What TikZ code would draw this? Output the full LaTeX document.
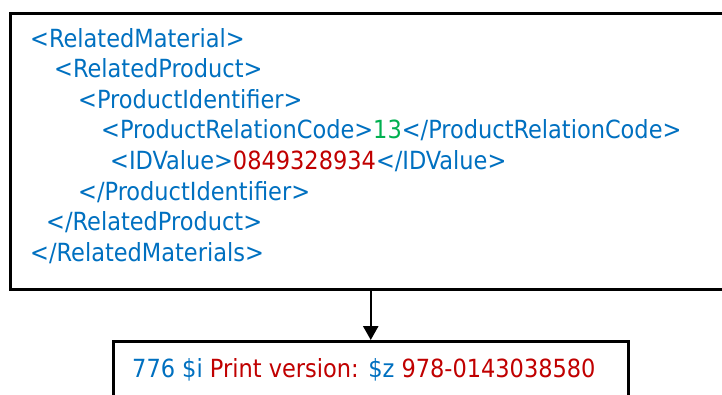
\documentclass[tikz,border=0pt]{standalone}
\usepackage{fontspec}
\setmainfont{DejaVu Sans Condensed}
\usetikzlibrary{arrows.meta}
\definecolor{tagblue}{RGB}{0,112,192}
\definecolor{valred}{RGB}{192,0,0}
\definecolor{codegreen}{RGB}{0,176,80}
\tikzset{
  frame/.style={draw=black, line width=2.5pt, inner sep=0pt},
  xmlline/.style={anchor=base west, inner sep=0pt, text=tagblue,
    font=\fontsize{25}{29}\selectfont},
  link/.style={line width=2.5pt, -{Triangle[width=15pt,length=14pt]}},
}
\begin{document}
\begin{tikzpicture}[x=1pt,y=-1pt]
  \useasboundingbox (0,0) rectangle (722,394);
  \clip (0,0) rectangle (722,394);
  % source record frame (runs off the right edge)
  \node[frame, minimum width=740pt, minimum height=276pt, anchor=north west] (xml) at (9,12) {};
  % converted MARC field frame (runs off the bottom edge)
  \node[frame, minimum width=515pt, minimum height=70pt, anchor=north west] (marc) at (112,340) {};
  % XML lines
  \node[xmlline] (l1) at (30,47)  {<RelatedMaterial>};
  \node[xmlline] (l2) at (54,77)  {<RelatedProduct>};
  \node[xmlline] (l3) at (78,108) {<ProductIdentifier>};
  \node[xmlline] (l4) at (101,138) {<ProductRelationCode>\textcolor{codegreen}{13}</ProductRelationCode>};
  \node[xmlline] (l5) at (110,169) {<IDValue>\textcolor{valred}{0849328934}</IDValue>};
  \node[xmlline] (l6) at (78,200) {</ProductIdentifier>};
  \node[xmlline] (l7) at (46,230) {</RelatedProduct>};
  \node[xmlline] (l8) at (30,261) {</RelatedMaterials>};
  % MARC field text
  \node[xmlline] (t) at (132,377) {776 \$i \textcolor{valred}{Print version:} \$z \textcolor{valred}{978-0143038580}};
  % conversion arrow
  \draw[link] (marc.north |- xml.south) -- (marc.north);
\end{tikzpicture}
\end{document}
